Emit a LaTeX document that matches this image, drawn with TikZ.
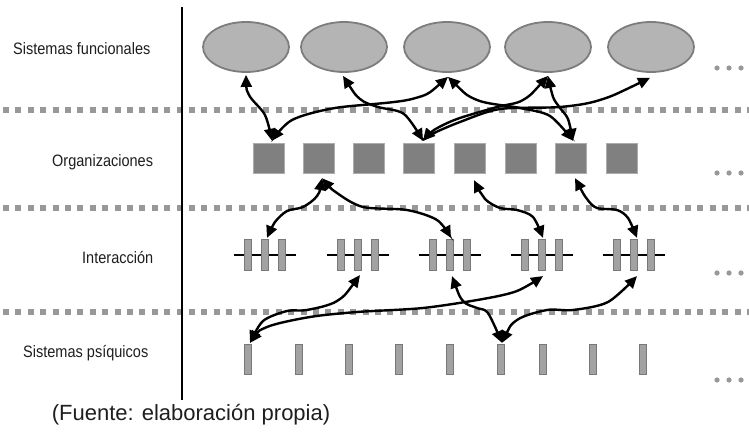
\documentclass[tikz,border=0pt]{standalone}
\usepackage{fontspec}
\setmainfont{Liberation Sans}
\newfontfamily\labfont[FakeStretch=0.88]{Liberation Sans}
\usetikzlibrary{shapes.geometric,arrows.meta}
\definecolor{dotgray}{RGB}{152,152,152}
\definecolor{ellfill}{RGB}{180,180,180}
\definecolor{elldraw}{RGB}{125,125,125}
\definecolor{sqfill}{RGB}{128,128,128}
\definecolor{sqdraw}{RGB}{172,172,172}
\definecolor{barfill}{RGB}{162,162,162}
\definecolor{bardraw}{RGB}{120,120,120}
\definecolor{txt}{RGB}{30,30,30}
\begin{document}
\begin{tikzpicture}[x=1pt,y=-1pt,
  sysf/.style={ellipse,draw=elldraw,fill=ellfill,line width=1.8pt,minimum width=86pt,minimum height=50pt,inner sep=0pt},
  orgbox/.style={rectangle,draw=sqdraw,fill=sqfill,line width=1.4pt,minimum width=31pt,minimum height=30pt,inner sep=0pt},
  ibar/.style={rectangle,draw=bardraw,fill=barfill,line width=1.2pt,minimum width=7pt,minimum height=31pt,inner sep=0pt},
  pbar/.style={rectangle,draw=bardraw,fill=barfill,line width=1.2pt,minimum width=7pt,minimum height=30pt,inner sep=0pt},
  hline/.style={line width=2.8pt,black},
  dotrow/.style={dotgray,line width=5.5pt,dash pattern=on 6pt off 6.4pt},
  arr/.style={line width=2.4pt,black,{Triangle[length=12pt,width=11pt]}-{Triangle[length=12pt,width=11pt]}},
  lab/.style={font=\labfont\fontsize{16.5}{18}\selectfont,text=txt,inner sep=0pt,anchor=west},
  captxt/.style={font=\fontsize{22}{26}\selectfont,text=txt,inner sep=0pt}
]
\useasboundingbox (0,0) rectangle (749,435);

% dotted separators
\draw[dotrow] (3,110) -- (749,110);
\draw[dotrow] (3,208) -- (749,208);
\draw[dotrow] (3,312) -- (749,312);

% vertical axis
\draw[line width=2pt,black] (182,7) -- (182,400);

% labels
\node[lab] (l1) at (13,49) {Sistemas funcionales};
\node[lab] (l2) at (52,162) {Organizaciones};
\node[lab] (l3) at (82,258) {Interacción};
\node[lab] (l4) at (23,353) {Sistemas psíquicos};
\node[captxt] (caption) at (191,415) {(Fuente: elaboración propia)};

% functional systems
\foreach \x [count=\i] in {246,344,447,548,651}
  \node[sysf] (e\i) at (\x,47) {};

% organizations
\foreach \x [count=\i] in {269,319,369,419,470,521,571,622}
  \node[orgbox] (s\i) at (\x,158.5) {};

% interactions
\foreach \x [count=\i] in {265,358,450,542,634} {
  \draw[hline] (\x-31,255) -- (\x+31,255);
  \node[ibar] (i\i a) at (\x-17,255) {};
  \node[ibar] (i\i b) at (\x,255) {};
  \node[ibar] (i\i c) at (\x+17,255) {};
}

% psychic systems
\foreach \x [count=\i] in {248,299,349,399,450,501,543,593,643}
  \node[pbar] (p\i) at (\x,359.5) {};

% ellipsis dots
\foreach \y in {68,173,273,380}
  \foreach \x in {717,729,741}
    \fill[dotgray] (\x,\y) circle (2.6);

% top connectors
\draw[arr] plot[smooth,tension=0.5] coordinates {([yshift=-2pt]e1.south) (249,95) (265,115) ([xshift=3pt,yshift=2pt]s1.north)};
\draw[arr] plot[smooth,tension=0.5] coordinates {([xshift=-1pt,yshift=-3pt]e2.south) (360,99) (378,107) (404,114) ([xshift=4pt,yshift=2pt]s4.north)};
\draw[arr] plot[smooth,tension=0.5] coordinates {([xshift=1pt,yshift=-4pt]e3.south) (412,99) (335,108) (292,120) ([xshift=3pt,yshift=2pt]s1.north)};
\draw[arr] plot[smooth,tension=0.5] coordinates {([xshift=1pt,yshift=-4pt]e3.south) (477,100) (520,108) (550,116) ([xshift=2pt,yshift=2pt]s7.north)};
\draw[arr] plot[smooth,tension=0.5] coordinates {([yshift=-3pt]e4.south) (523,100) (497,107) (457,119) (434,130) ([xshift=4pt,yshift=2pt]s4.north)};
\draw[arr] plot[smooth,tension=0.5] coordinates {([yshift=-3pt]e4.south) (553,97) (560,108) (568,119) ([xshift=2pt,yshift=2pt]s7.north)};
\draw[arr] plot[smooth,tension=0.5] coordinates {([xshift=-1pt,yshift=-5pt]e5.south) (600,100) (560,107) (500,109) (460,122) (432,134) ([xshift=4pt,yshift=2pt]s4.north)};

% middle connectors
\draw[arr] plot[smooth,tension=0.5] coordinates {([xshift=3pt,yshift=-4pt]s2.south) (317,196) (303,207) (287,211) (275,222) ([xshift=2pt,yshift=1pt]i1b.north)};
\draw[arr] plot[smooth,tension=0.5] coordinates {([xshift=3pt,yshift=-4pt]s2.south) (337,193) (363,207) (407,210) (437,220) ([xshift=1pt,yshift=1pt]i3b.north)};
\draw[arr] plot[smooth,tension=0.5] coordinates {([xshift=4pt,yshift=-6pt]s5.south) (485,199) (500,208) (517,210) (533,217) ([xshift=1pt,yshift=1pt]i4b.north)};
\draw[arr] plot[smooth,tension=0.5] coordinates {([xshift=4pt,yshift=-4pt]s7.south) (587,199) (597,208) (617,210) (628,218) ([xshift=3pt,yshift=1pt]i5b.north)};

% bottom connectors
\draw[arr] plot[smooth,tension=0.5] coordinates {([xshift=2pt,yshift=-4pt]i2b.south) (337,301) (307,310) (287,311) (263,321) ([xshift=2pt,yshift=1pt]p1.north)};
\draw[arr] plot[smooth,tension=0.5] coordinates {([xshift=2pt,yshift=1pt]p1.north) (267,327) (310,317) (357,312) (423,308) (483,299) (517,291) ([xshift=1pt,yshift=-5pt]i4b.south)};
\draw[arr] plot[smooth,tension=0.5] coordinates {([xshift=2pt,yshift=-5pt]i3b.south) (463,301) (477,308) (488,313) ([xshift=1pt,yshift=1pt]p6.north)};
\draw[arr] plot[smooth,tension=0.5] coordinates {([xshift=1pt,yshift=1pt]p6.north) (517,320) (547,310) (573,310) (608,302) ([xshift=3pt,yshift=-5pt]i5b.south)};
\end{tikzpicture}
\end{document}
